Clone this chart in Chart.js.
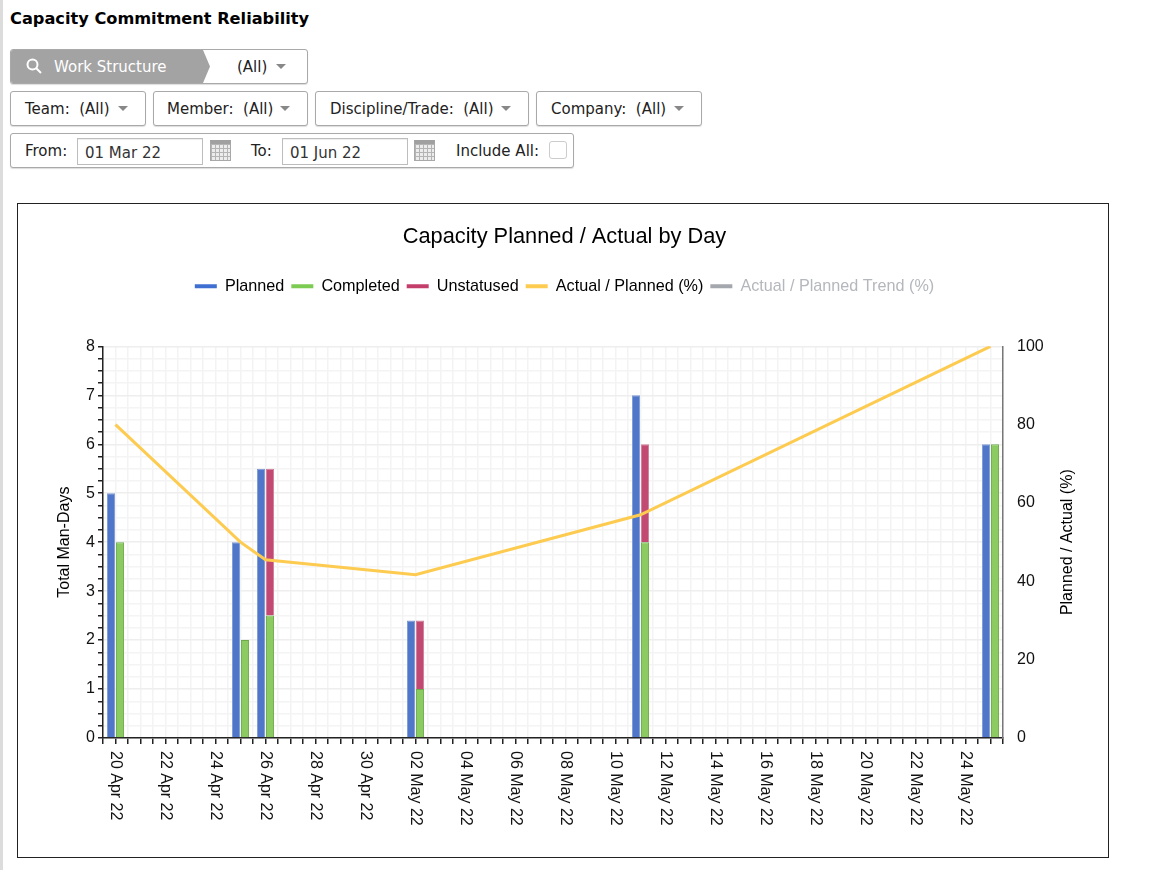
<!DOCTYPE html>
<html>
<head>
<meta charset="utf-8">
<title>Capacity Commitment Reliability</title>
<script src="https://cdn.jsdelivr.net/npm/chart.js@4"></script>
<style>
    html, body { margin: 0; padding: 0; background: #fff; }
    body { width: 1170px; height: 870px; position: relative; overflow: hidden; font-family: "DejaVu Sans", sans-serif; color: #222; }
    .edge { position: absolute; left: 0; top: 0; width: 3px; height: 870px; background: #dcdcdc; }
    h1 { position: absolute; left: 10px; top: 9px; margin: 0; font-size: 16.2px; line-height: 20px; font-weight: bold; color: #000; white-space: nowrap; }
    .box { position: absolute; box-sizing: border-box; height: 35px; border: 1px solid #a9a9a9; border-radius: 3px; background: #fff; font-size: 15px; line-height: 35px; box-shadow: 0 1px 1px #ddd; }
    .box span { position: absolute; top: 0; white-space: nowrap; }
    .caret { position: absolute; top: 14px; width: 0; height: 0; border-left: 5.5px solid transparent; border-right: 5.5px solid transparent; border-top: 5.5px solid #888; }
    .crumb { position: absolute; left: 0; top: 0; width: 199px; height: 33px; background: #a3a3a3; clip-path: polygon(0 0, 192px 0, 199px 50%, 192px 100%, 0 100%); border-radius: 2px 0 0 2px; color: #fff; }
    .input { position: absolute; box-sizing: border-box; top: 4px; width: 126px; height: 27px; border: 1px solid #bdbdbd; font-size: 15px; line-height: 28px; padding-left: 7px; color: #333; box-shadow: inset 0 1px 1px #eee; }
    .cal { position: absolute; top: 6px; width: 21px; height: 21px; box-sizing: border-box; border: 1px solid #a8a8a8; border-top: 4px solid #a0a0a0;
        background-color: #ececec;
        background-image: linear-gradient(#b4b4b4 1px, transparent 1px), linear-gradient(90deg, #b4b4b4 1px, transparent 1px);
        background-size: 4px 4px; }
    .check { position: absolute; left: 538px; top: 7px; width: 16px; height: 16px; border: 1px solid #ccc; border-radius: 3px; background: #fff; }
    #chartBox { position: absolute; left: 17px; top: 203px; width: 1092px; height: 655px; box-sizing: border-box; border: 1px solid #222; background: #fff; }
    #chart { display: block; }
</style>
</head>
<body>
<div class="edge"></div>
<h1>Capacity Commitment Reliability</h1>

<div class="box" style="left:10px;top:49px;width:298px">
    <div class="crumb">
        <svg width="18" height="18" viewBox="0 0 18 18" style="position:absolute;left:14px;top:7px">
            <circle cx="7.5" cy="7.5" r="5" fill="none" stroke="#fff" stroke-width="2"></circle>
            <line x1="11" y1="11" x2="16" y2="16" stroke="#fff" stroke-width="2"></line>
        </svg>
        <span style="left:43px">Work Structure</span>
    </div>
    <span style="left:226px">(All)</span><i class="caret" style="left:265px"></i>
</div>

<div class="box" style="left:10px;top:91px;width:136px"><span style="left:14px">Team:&nbsp; (All)</span><i class="caret" style="left:107px"></i></div>
<div class="box" style="left:153px;top:91px;width:155px"><span style="left:13px">Member:&nbsp; (All)</span><i class="caret" style="left:126px"></i></div>
<div class="box" style="left:315px;top:91px;width:214px"><span style="left:14px">Discipline/Trade:&nbsp; (All)</span><i class="caret" style="left:185px"></i></div>
<div class="box" style="left:536px;top:91px;width:166px"><span style="left:14px">Company:&nbsp; (All)</span><i class="caret" style="left:137px"></i></div>

<div class="box" style="left:10px;top:133px;width:564px">
    <span style="left:14px">From:</span>
    <div class="input" style="left:66px">01 Mar 22</div>
    <div class="cal" style="left:199px"></div>
    <span style="left:240px">To:</span>
    <div class="input" style="left:271px">01 Jun 22</div>
    <div class="cal" style="left:403px"></div>
    <span style="left:445px">Include All:</span>
    <div class="check"></div>
</div>

<div id="chartBox"><canvas id="chart" width="1090" height="653"></canvas></div>

<script>
// every day on the axis
const days = [
    '20 Apr 22', '21 Apr 22', '22 Apr 22', '23 Apr 22', '24 Apr 22', '25 Apr 22', '26 Apr 22', '27 Apr 22', '28 Apr 22',
    '29 Apr 22', '30 Apr 22', '01 May 22', '02 May 22', '03 May 22', '04 May 22', '05 May 22', '06 May 22', '07 May 22',
    '08 May 22', '09 May 22', '10 May 22', '11 May 22', '12 May 22', '13 May 22', '14 May 22', '15 May 22', '16 May 22',
    '17 May 22', '18 May 22', '19 May 22', '20 May 22', '21 May 22', '22 May 22', '23 May 22', '24 May 22', '25 May 22'
];

const activeDays = ['20 Apr 22', '25 Apr 22', '26 Apr 22', '02 May 22', '11 May 22', '25 May 22'];
const planned = [5, 4, 5.5, 2.4, 7, 6];
const completed = [4, 2, 2.5, 1, 4, 6];
const unstatused = [0, 0, 3, 1.4, 2, 0];
const actualPlanned = [80, 50, 45.5, 41.7, 57, 100];

const fontName = '"Liberation Sans", Arial, sans-serif';
const pairs = (values) => values.map((v, i) => ({x: activeDays[i], y: v}));

const legendSpace = {
    id: 'legendSpace',
    beforeInit(chart) {
        const fit = chart.legend.fit;
        chart.legend.fit = function () {
            fit.bind(this)();
            this.height += 42;
        };
    }
};

// chart.js always turns a right axis title top-down, the original reads bottom-up
const rightTitle = {
    id: 'rightTitle',
    afterDraw(chart) {
        const ctx = chart.ctx, y1 = chart.scales.y1;
        ctx.save();
        ctx.translate(y1.left + 65, (y1.top + y1.bottom) / 2);
        ctx.rotate(-Math.PI / 2);
        ctx.textAlign = 'center';
        ctx.textBaseline = 'middle';
        ctx.fillStyle = '#000';
        ctx.font = '16px ' + fontName;
        ctx.fillText('Planned / Actual (%)', 0, 0);
        ctx.restore();
    }
};

new Chart(document.getElementById('chart'), {
    data: {
        labels: days,
        datasets: [
            {type: 'bar', label: 'Planned', data: pairs(planned), xAxisID: 'x', stack: 'planned', order: 2, backgroundColor: '#4f76c8', borderColor: '#7f9bd6', borderWidth: 1, legendColor: '#3f6fd0'},
            {type: 'bar', label: 'Completed', data: pairs(completed), xAxisID: 'x', stack: 'done', order: 2, backgroundColor: '#8bcb61', borderColor: '#6eaa4b', borderWidth: 1, legendColor: '#7ccb52'},
            {type: 'bar', label: 'Unstatused', data: pairs(unstatused), xAxisID: 'x', stack: 'done', order: 2, backgroundColor: '#c24a72', borderColor: '#d27e9b', borderWidth: 1, legendColor: '#c43e6c'},
            {type: 'line', label: 'Actual / Planned (%)', data: pairs(actualPlanned), xAxisID: 'x', yAxisID: 'y1', order: 1, borderColor: '#fdcb50', backgroundColor: '#fdcb50', borderWidth: 3, pointRadius: 0, tension: 0, legendColor: '#fdcb50'},
            {type: 'line', label: 'Actual / Planned Trend (%)', data: [], xAxisID: 'x', yAxisID: 'y1', order: 1, borderColor: '#a4a7ad', backgroundColor: '#a4a7ad', pointRadius: 0, legendColor: '#a4a7ad', legendText: '#b4b7bc'}
        ]
    },
    plugins: [legendSpace, rightTitle],
    options: {
        responsive: false,
        animation: false,
        devicePixelRatio: 1,
        layout: {padding: {left: 33, right: 30, top: 0, bottom: 0}},
        datasets: {bar: {categoryPercentage: 0.72, barPercentage: 0.9}},
        plugins: {
            title: {
                display: true,
                text: 'Capacity Planned / Actual by Day',
                color: '#000',
                font: {family: fontName, size: 21.8, weight: 'normal'},
                padding: {top: 20, bottom: 21}
            },
            legend: {
                position: 'top',
                labels: {
                    boxWidth: 22,
                    boxHeight: 4,
                    padding: 7,
                    color: '#000',
                    font: {family: fontName, size: 16.2},
                    sort: (a, b) => a.datasetIndex - b.datasetIndex,
                    generateLabels(chart) {
                        return chart.data.datasets.map((d, i) => ({
                            text: d.label,
                            fillStyle: d.legendColor,
                            strokeStyle: d.legendColor,
                            lineWidth: 0,
                            fontColor: d.legendText || '#000',
                            hidden: false,
                            datasetIndex: i
                        }));
                    }
                }
            },
            tooltip: {enabled: false}
        },
        scales: {
            // half-day grid and tick marks
            dayGrid: {
                type: 'linear',
                position: 'bottom',
                axis: 'x',
                weight: 0,
                min: 0,
                max: 36,
                grid: {color: '#f3f3f3', lineWidth: 1.5, tickColor: '#222', tickLength: 6},
                border: {display: true, color: '#222', width: 1.5},
                ticks: {stepSize: 0.5, autoSkip: false, display: false, padding: 0}
            },
            x: {
                type: 'category',
                position: 'bottom',
                weight: 1,
                offset: true,
                grid: {display: false},
                border: {display: false},
                ticks: {
                    autoSkip: false,
                    minRotation: -90,
                    maxRotation: -90,
                    padding: -1,
                    color: '#111',
                    font: {family: fontName, size: 16},
                    callback(value, index) {
                        return index % 2 === 0 ? days[index] : '';
                    }
                },
                beforeUpdate(scale) {
                    // labels start at the axis and run down from it
                    scale._getXAxisLabelAlignment = () => 'left';
                },
                afterFit(scale) {
                    scale.height = 113;
                }
            },
            y: {
                type: 'linear',
                position: 'left',
                stacked: true,
                min: 0,
                max: 8,
                grid: {
                    color: (c) => Number.isInteger(c.tick.value) ? '#eeeeee' : '#f4f4f4',
                    lineWidth: 1.5,
                    tickColor: '#222',
                    tickLength: 5
                },
                border: {display: true, color: '#222', width: 1.5},
                title: {display: true, text: 'Total Man-Days', color: '#000', font: {family: fontName, size: 16}, padding: {top: 4, bottom: 0}},
                ticks: {
                    stepSize: 0.25,
                    autoSkip: false,
                    padding: 3,
                    color: '#111',
                    font: {family: fontName, size: 16},
                    callback: (v) => Number.isInteger(v) ? v : ''
                },
                afterFit(scale) {
                    scale.width = 52;
                }
            },
            y1: {
                type: 'linear',
                position: 'right',
                min: 0,
                max: 100,
                grid: {display: false, drawOnChartArea: false, tickColor: '#777', tickLength: 5},
                border: {display: true, color: '#777', width: 1.5},
                ticks: {
                    stepSize: 20,
                    padding: 9,
                    color: '#111',
                    font: {family: fontName, size: 16}
                },
                afterFit(scale) {
                    scale.width = 75;
                }
            }
        }
    }
});
</script>
</body>
</html>
